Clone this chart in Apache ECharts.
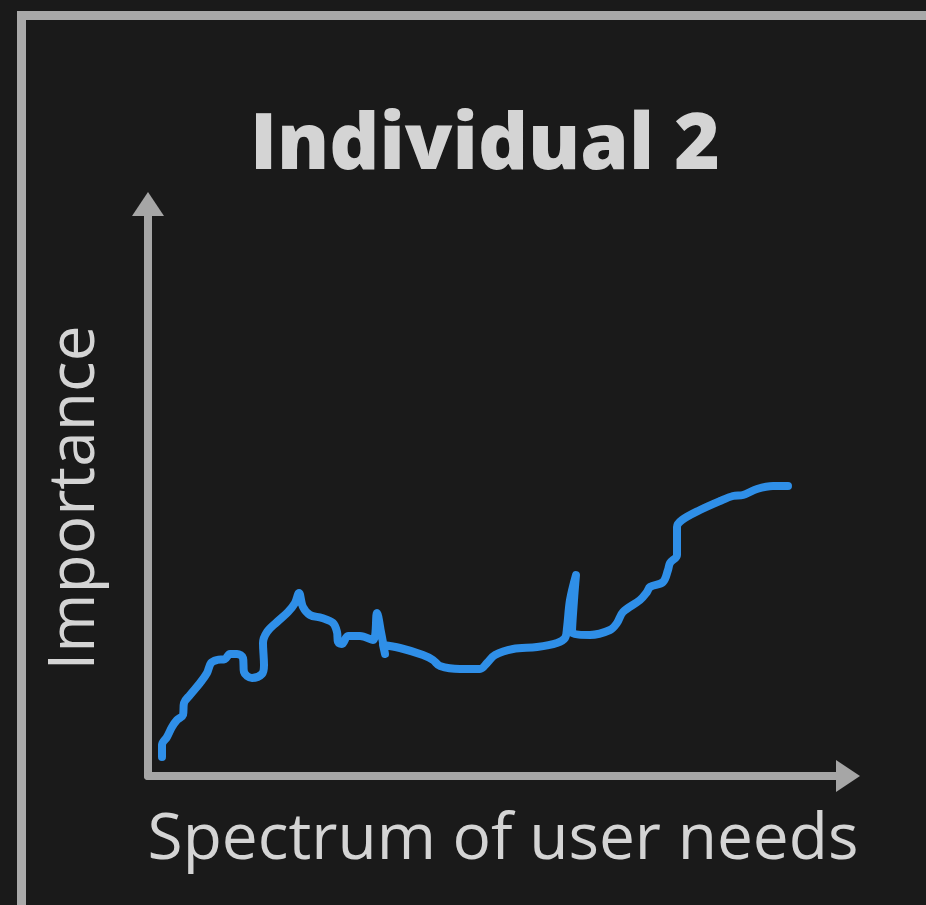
<!DOCTYPE html>
<html>
<head>
<meta charset="utf-8">
<title>Individual 2</title>
<script src="https://cdn.jsdelivr.net/npm/echarts@6/dist/echarts.min.js"></script>
<style>
    html, body { margin: 0; padding: 0; background: #1a1a1a; }
    #chart { width: 926px; height: 905px; }
</style>
</head>
<body>
<div id="chart"></div>
<script>
// hand drawn curve (x = need, y = importance)
var needs = [14, 14, 19, 24, 29, 35, 36, 42, 52, 59, 63, 69, 77, 82, 89, 95, 96, 104, 114, 116,
    115, 119, 129, 140, 147, 151, 155, 162, 174, 185, 189, 190, 194, 200, 212, 225, 229, 233, 237, 235,
    252, 275, 285, 292, 312, 332, 339, 347, 365, 389, 409, 417, 419, 422, 428, 426, 424, 442, 462, 469,
    475, 492, 499, 502, 515, 520, 522, 529, 529, 529, 534, 552, 572, 585, 595, 609, 625, 640];
var importance = [19, 31, 39, 49, 56, 61, 73, 81, 93, 103, 113, 116, 117, 122, 122, 118, 104, 98, 102, 111,
    133, 144, 154, 164, 173, 183, 169, 161, 158, 153, 144, 134, 132, 140, 140, 136, 163, 144, 122, 131,
    128, 121, 116, 110, 107, 107, 113, 121, 127, 129, 133, 138, 148, 176, 201, 176, 144, 141, 146, 153,
    164, 176, 184, 189, 194, 206, 213, 221, 236, 249, 256, 266, 275, 280, 281, 287, 290, 290];

var titleText = 'Individual 2';
var xName = 'Spectrum of user needs';
var yName = 'Importance';

var axisColor = '#a6a6a6';
var textColor = '#d4d4d4';

var points = [];
for (var i = 0; i < needs.length; i++) {
    points.push([needs[i], importance[i]]);
}

var chart = echarts.init(document.getElementById('chart'));

var option = {
    backgroundColor: '#1a1a1a',
    animation: false,
    title: {
        text: titleText,
        left: 480,
        textAlign: 'center',
        top: 103,
        textStyle: {
            color: textColor,
            fontFamily: 'Open Sans',
            fontWeight: 800,
            fontSize: 78
        }
    },
    grid: {
        left: 148,
        right: 78,
        top: 204,
        bottom: 129,
        containLabel: false
    },
    xAxis: {
        type: 'value',
        min: 0,
        max: 700,
        name: xName,
        nameLocation: 'middle',
        nameGap: 33,
        nameTextStyle: {
            color: textColor,
            fontFamily: 'Open Sans',
            fontSize: 64,
            padding: [0, 0, 0, 10]
        },
        axisLine: {
            show: true,
            symbol: ['none', 'triangle'],
            symbolSize: [32, 24],
            lineStyle: { color: axisColor, width: 8 }
        },
        axisTick: { show: false },
        axisLabel: { show: false },
        splitLine: { show: false }
    },
    yAxis: {
        type: 'value',
        min: 0,
        max: 572,
        name: yName,
        nameLocation: 'middle',
        nameGap: 40,
        nameTextStyle: {
            color: textColor,
            fontFamily: 'Open Sans',
            fontSize: 64,
            padding: [0, 16, 0, 0]
        },
        axisLine: {
            show: true,
            symbol: ['none', 'triangle'],
            symbolSize: [32, 24],
            lineStyle: { color: axisColor, width: 8 }
        },
        axisTick: { show: false },
        axisLabel: { show: false },
        splitLine: { show: false }
    },
    graphic: [
        {
            // panel frame, runs off the right and bottom edge
            type: 'rect',
            silent: true,
            shape: { x: 21.5, y: 15.5, width: 2000, height: 2000 },
            style: { fill: 'none', stroke: '#a9a9a9', lineWidth: 9 }
        }
    ],
    series: [
        {
            type: 'line',
            data: points,
            smooth: 0.35,
            showSymbol: false,
            lineStyle: {
                color: '#2f8fe8',
                width: 8,
                cap: 'round',
                join: 'round'
            }
        }
    ]
};

chart.setOption(option);
</script>
</body>
</html>
